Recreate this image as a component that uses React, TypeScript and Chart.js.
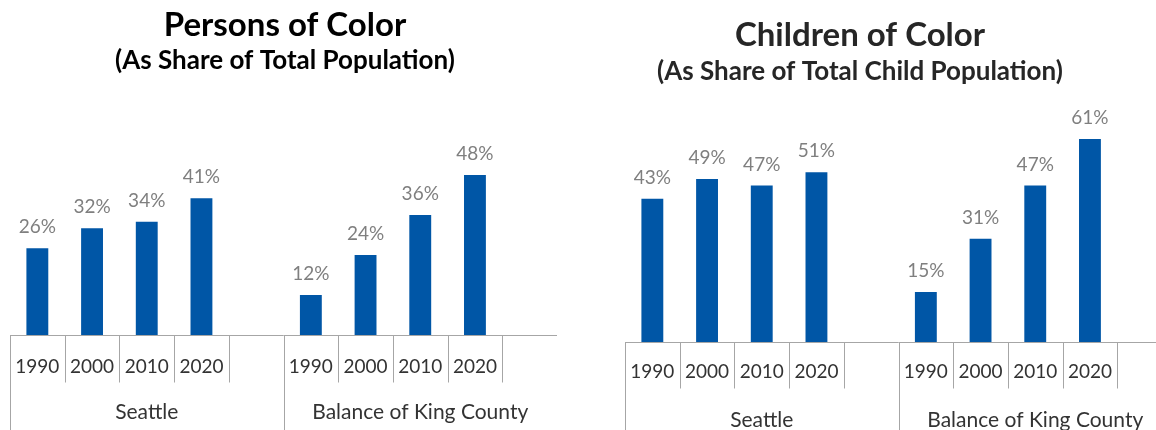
import React, { useEffect, useRef } from "react";
import { Chart, registerables } from "chart.js";

Chart.register(...registerables);

const years = ["1990", "2000", "2010", "2020"];
const groups = ["Seattle", "Balance of King County"];
const personsSeattle = [26, 32, 34, 41];
const personsBalance = [12, 24, 36, 48];
const childrenSeattle = [43, 49, 47, 51];
const childrenBalance = [15, 31, 47, 61];

const BAR_COLOR = "#0056A6";
const LABEL_COLOR = "#7f7f7f";
const AXIS_COLOR = "#a6a6a6";
const TEXT_COLOR = "#333333";
const FONT = "Lato, 'Open Sans', sans-serif";

type Cfg = {
  title: string;
  subtitle: string;
  titleColor: string;
  titleX: number;
  titleY: number;
  subY: number;
  titleSize: number;
  subSize: number;
  seattle: number[];
  balance: number[];
  yMax: number;
  padding: { left: number; right: number; top: number; bottom: number };
  yearDy: number;
  groupDy: number;
  tickLen: number;
};

function buildLabels(): string[] {
  const out: string[] = [];
  groups.forEach(() => {
    years.forEach((y) => out.push(y));
    out.push("");
  });
  return out;
}

function buildValues(a: number[], b: number[]): (number | null)[] {
  return [...a, null, ...b, null];
}

function ChartPanel({ cfg, left, width }: { cfg: Cfg; left: number; width: number }) {
  const ref = useRef<HTMLCanvasElement | null>(null);
  useEffect(() => {
    if (!ref.current) return;
    const labels = buildLabels();
    const values = buildValues(cfg.seattle, cfg.balance);
    const slotsPerGroup = years.length + 1;

    const plugin = {
      id: "decor",
      afterDraw(chart: any) {
        const ctx = chart.ctx as CanvasRenderingContext2D;
        const area = chart.chartArea;
        const xs = chart.scales.x;
        const ys = chart.scales.y;
        const n = labels.length;
        const slot = (area.right - area.left) / n;
        ctx.save();
        ctx.fillStyle = cfg.titleColor;
        ctx.textAlign = "center";
        ctx.textBaseline = "alphabetic";
        ctx.font = `bold ${cfg.titleSize}px ${FONT}`;
        ctx.fillText(cfg.title, cfg.titleX, cfg.titleY);
        ctx.font = `bold ${cfg.subSize}px ${FONT}`;
        ctx.fillText(cfg.subtitle, cfg.titleX, cfg.subY);

        ctx.strokeStyle = AXIS_COLOR;
        ctx.lineWidth = 1;
        const by = Math.round(area.bottom) + 0.5;
        ctx.beginPath();
        ctx.moveTo(area.left, by);
        ctx.lineTo(area.right, by);
        ctx.stroke();

        for (let i = 0; i < n; i++) {
          const x = Math.round(xs.getPixelForValue(i) - slot / 2) + 0.5;
          const isGroupStart = i % slotsPerGroup === 0;
          ctx.beginPath();
          ctx.moveTo(x, by);
          ctx.lineTo(x, isGroupStart ? chart.height : by + cfg.tickLen);
          ctx.stroke();
        }

        ctx.fillStyle = TEXT_COLOR;
        ctx.font = `19px ${FONT}`;
        ctx.textBaseline = "middle";
        labels.forEach((l, i) => {
          if (!l) return;
          ctx.fillText(l, xs.getPixelForValue(i), area.bottom + cfg.yearDy);
        });

        ctx.font = `21px ${FONT}`;
        groups.forEach((g, gi) => {
          const first = gi * slotsPerGroup;
          const last = first + slotsPerGroup - 1;
          const cx = (xs.getPixelForValue(first) + xs.getPixelForValue(last)) / 2;
          ctx.fillText(g, cx, area.bottom + cfg.groupDy);
        });

        ctx.fillStyle = LABEL_COLOR;
        ctx.font = `19px ${FONT}`;
        values.forEach((v, i) => {
          if (v === null) return;
          ctx.fillText(`${v}%`, xs.getPixelForValue(i), ys.getPixelForValue(v) - 21);
        });
        ctx.restore();
      },
    };

    const chart = new Chart(ref.current, {
      type: "bar",
      data: {
        labels,
        datasets: [
          {
            data: values,
            backgroundColor: BAR_COLOR,
            borderWidth: 0,
            categoryPercentage: 1,
            barPercentage: 0.4,
          },
        ],
      },
      options: {
        animation: false,
        responsive: false,
        maintainAspectRatio: false,
        layout: { padding: cfg.padding },
        plugins: { legend: { display: false }, tooltip: { enabled: false }, title: { display: false } },
        scales: {
          x: { display: false, grid: { display: false } },
          y: { display: false, min: 0, max: cfg.yMax },
        },
      },
      plugins: [plugin],
    });
    return () => chart.destroy();
  }, [cfg]);

  return (
    <canvas
      ref={ref}
      width={width}
      height={430}
      style={{ position: "absolute", left, top: 0, width, height: 430 }}
    />
  );
}

const leftCfg: Cfg = {
  title: "Persons of Color",
  subtitle: "(As Share of Total Population)",
  titleColor: "#000000",
  titleX: 285,
  titleY: 36,
  subY: 69,
  titleSize: 33,
  subSize: 26,
  seattle: personsSeattle,
  balance: personsBalance,
  yMax: 60,
  padding: { left: 10, right: 21, top: 135, bottom: 95 },
  yearDy: 32,
  groupDy: 77,
  tickLen: 47,
};

const rightCfg: Cfg = {
  title: "Children of Color",
  subtitle: "(As Share of Total Child Population)",
  titleColor: "#262626",
  titleX: 860 - 578,
  titleY: 46,
  subY: 80,
  titleSize: 33,
  subSize: 26,
  seattle: childrenSeattle,
  balance: childrenBalance,
  yMax: 70,
  padding: { left: 47, right: 16, top: 109, bottom: 88 },
  yearDy: 30,
  groupDy: 78,
  tickLen: 46,
};

export default function App() {
  return (
    <div
      style={{
        position: "fixed",
        left: 0,
        top: 0,
        width: 1156,
        height: 430,
        overflow: "hidden",
        background: "#ffffff",
      }}
    >
      <ChartPanel cfg={leftCfg} left={0} width={578} />
      <ChartPanel cfg={rightCfg} left={578} width={610} />
    </div>
  );
}
